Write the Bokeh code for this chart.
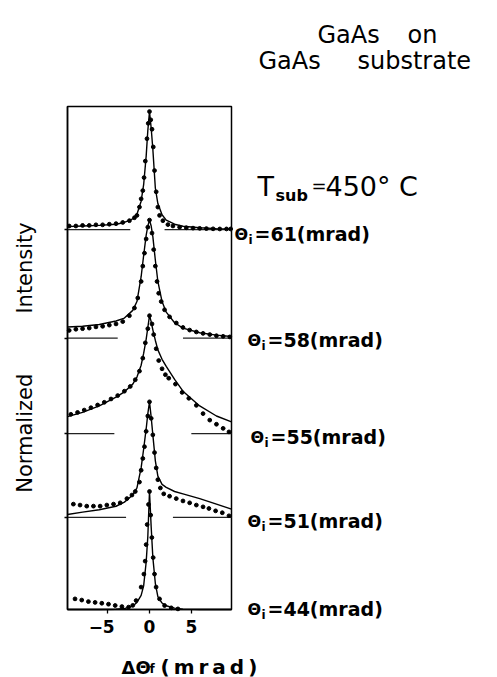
import math
from bokeh.plotting import figure
from bokeh.models import Label, FixedTicker, Range1d, LinearAxis
from bokeh.core.properties import value
from bokeh.embed import file_html
from bokeh.resources import INLINE

# ---------------- data ----------------
theta_i = [61, 58, 55, 51, 44]
offsets = [3.22, 2.30, 1.49, 0.78, 0.0]          # vertical offset of each curve (normalized units)
gap_left = [-2.3, -3.8, -4.2, -2.8]               # zero-line segments stop / restart
gap_right = [1.8, 4.0, 5.0, 2.8]

fit_x = [-9.8, -8, -6, -4, -3, -2, -1.5, -1, -0.7, -0.4, -0.2, 0, 0.2, 0.4, 0.7, 1, 1.5, 2, 3, 4, 6, 8, 9.8]
fit_61 = [0.025, 0.03, 0.035, 0.045, 0.06, 0.09, 0.13, 0.24, 0.38, 0.62, 0.84, 1.0, 0.86, 0.68, 0.35, 0.22, 0.125, 0.08, 0.045, 0.028, 0.015, 0.008, 0.005]
fit_58 = [0.094, 0.10, 0.115, 0.145, 0.17, 0.235, 0.31, 0.52, 0.70, 0.87, 0.95, 1.0, 0.95, 0.86, 0.66, 0.48, 0.31, 0.22, 0.13, 0.085, 0.045, 0.025, 0.014]
fit_55 = [0.145, 0.18, 0.235, 0.31, 0.355, 0.42, 0.48, 0.58, 0.68, 0.80, 0.90, 1.0, 0.95, 0.88, 0.79, 0.71, 0.63, 0.57, 0.46, 0.36, 0.235, 0.15, 0.10]
fit_51 = [0.025, 0.045, 0.065, 0.095, 0.13, 0.19, 0.25, 0.42, 0.58, 0.75, 0.88, 0.98, 0.85, 0.70, 0.48, 0.35, 0.28, 0.255, 0.22, 0.20, 0.16, 0.113, 0.07]
fit_44 = [0.0, 0.0, 0.0, 0.002, 0.008, 0.03, 0.06, 0.12, 0.2, 0.4, 0.62, 1.0, 0.70, 0.44, 0.22, 0.11, 0.055, 0.032, 0.012, 0.003, 0.0, 0.0, 0.0]

dot_x_61 = [-9.6, -8.8, -8.0, -7.2, -6.4, -5.6, -4.8, -4.0, -3.2, -2.4, -1.8, -1.5, -1.2, -1.0, -0.8, -0.65, -0.5, -0.3, -0.15, 0.0,
            0.15, 0.3, 0.45, 0.6, 0.8, 1.0, 1.2, 1.6, 2.2, 2.8, 3.6, 4.4, 5.2, 6.0, 6.8, 7.6, 8.4, 9.2, 9.7]
dot_y_61 = [0.03, 0.03, 0.035, 0.035, 0.04, 0.04, 0.045, 0.05, 0.06, 0.075, 0.1, 0.12, 0.19, 0.26, 0.33, 0.44, 0.58, 0.77, 0.9, 1.0,
            0.93, 0.85, 0.7, 0.5, 0.32, 0.19, 0.12, 0.075, 0.042, 0.03, 0.02, 0.015, 0.012, 0.01, 0.008, 0.006, 0.005, 0.005, 0.005]

dot_x_58 = [-9.6, -8.8, -8.0, -7.2, -6.4, -5.6, -4.8, -4.0, -3.2, -2.4, -1.8, -1.4, -1.0, -0.8, -0.6, -0.4, -0.2, 0.0,
            0.3, 0.5, 0.7, 0.9, 1.1, 1.4, 1.8, 2.4, 3.2, 4.0, 4.8, 5.6, 6.4, 7.2, 8.0, 8.8, 9.6]
dot_y_58 = [0.065, 0.075, 0.08, 0.085, 0.095, 0.1, 0.11, 0.12, 0.14, 0.19, 0.255, 0.34, 0.48, 0.61, 0.72, 0.84, 0.94, 1.0,
            0.89, 0.75, 0.61, 0.48, 0.38, 0.31, 0.24, 0.18, 0.128, 0.09, 0.068, 0.052, 0.04, 0.03, 0.02, 0.015, 0.01]

dot_x_55 = [-9.4, -8.6, -7.8, -7.0, -6.2, -5.4, -4.6, -3.8, -3.0, -2.3, -1.7, -1.2, -0.8, -0.5, -0.2, 0.0,
            0.3, 0.5, 0.8, 1.1, 1.5, 1.9, 2.3, 3.1, 3.9, 4.7, 5.6, 6.4, 7.2, 8.0, 8.8, 9.5]
dot_y_55 = [0.164, 0.18, 0.2, 0.22, 0.243, 0.266, 0.294, 0.323, 0.36, 0.40, 0.457, 0.53, 0.64, 0.77, 0.89, 1.0,
            0.93, 0.84, 0.72, 0.62, 0.55, 0.50, 0.47, 0.42, 0.35, 0.30, 0.24, 0.17, 0.115, 0.08, 0.045, 0.015]

dot_x_51 = [-9.1, -8.3, -7.5, -6.7, -5.9, -5.1, -4.3, -3.5, -2.7, -2.1, -1.7, -1.2, -1.0, -0.8, -0.6, -0.4, -0.2, 0.0,
            0.2, 0.4, 0.6, 0.8, 1.0, 1.3, 1.7, 2.4, 3.2, 4.0, 4.8, 5.6, 6.4, 7.1, 7.9, 8.7, 9.5]
dot_y_51 = [0.113, 0.105, 0.096, 0.096, 0.096, 0.105, 0.113, 0.124, 0.16, 0.19, 0.22, 0.3, 0.4, 0.5, 0.6, 0.73, 0.86, 0.98,
            0.84, 0.7, 0.55, 0.42, 0.32, 0.25, 0.2, 0.18, 0.16, 0.14, 0.124, 0.105, 0.09, 0.076, 0.056, 0.04, 0.014]

dot_x_44 = [-8.9, -8.1, -7.3, -6.5, -5.7, -4.9, -4.1, -3.3, -2.5, -2.0, -1.6, -1.0, -0.67, -0.52, -0.4, -0.28, -0.12, 0.0,
            0.14, 0.28, 0.44, 0.6, 0.79, 1.2, 1.8, 2.6, 3.4]
dot_y_44 = [0.09, 0.08, 0.067, 0.06, 0.053, 0.045, 0.034, 0.025, 0.02, 0.035, 0.076, 0.19, 0.3, 0.41, 0.55, 0.72, 0.89, 1.0,
            0.8, 0.61, 0.44, 0.3, 0.19, 0.09, 0.034, 0.014, 0.005]

fits = [fit_61, fit_58, fit_55, fit_51, fit_44]
dots = [(dot_x_61, dot_y_61), (dot_x_58, dot_y_58), (dot_x_55, dot_y_55), (dot_x_51, dot_y_51), (dot_x_44, dot_y_44)]

x_ticks = [-5, 0, 5]
x_tick_labels = ["\u22125", "0", "5"]
title_lines = [("GaAs", "on"), ("GaAs", "substrate")]

# ---------------- geometry ----------------
X0, X1 = -9.8, 9.8              # data limits of the plot box
Y1 = 503 / 118.0
FONT = "DejaVu Sans"
W, H = 497, 677
BOX_L, BOX_R, BOX_B = 67, 231, 609     # page pixels of the box
KX = (BOX_R - BOX_L) / (X1 - X0)
KY = 118.0
FR_TOP, FR_RIGHT = 3, W - 3           # frame spans the page (small margin for the axis panels)

x_start = X0 - BOX_L / KX
x_end = X1 + (FR_RIGHT - BOX_R) / KX
y_start = -(H - BOX_B) / KY
y_end = (BOX_B - FR_TOP) / KY

p = figure(width=W, height=H, x_range=Range1d(x_start, x_end), y_range=Range1d(y_start, y_end),
           x_axis_type=None, y_axis_type=None, output_backend="svg", toolbar_location=None,
           min_border_left=0, min_border_bottom=0, min_border_top=FR_TOP, min_border_right=W - FR_RIGHT)
p.outline_line_color = None
p.background_fill_color = "white"
p.border_fill_color = "white"


def sx(px):
    return X0 + (px - BOX_L) / KX


def sy(py):
    return (BOX_B - py) / KY


# axes drawn along the box edges (ticks point outward, labels drawn separately below)
axis_style = dict(minor_tick_in=0, minor_tick_out=0, major_tick_out=0,
                  major_label_text_font_size="1px", major_label_text_color=None, major_label_standoff=0,
                  axis_line_width=1.5, major_tick_line_width=1.3)
xb = LinearAxis(fixed_location=0, bounds=(X0, X1), ticker=FixedTicker(ticks=x_ticks),
                major_tick_in=4, **axis_style)
p.add_layout(xb, "above")
yl = LinearAxis(fixed_location=X0, bounds=(0, Y1), ticker=FixedTicker(ticks=offsets[:4]),
                major_tick_in=3, **axis_style)
p.add_layout(yl, "right")
p.quad(left=X0, right=X1, bottom=0, top=Y1, fill_color=None, line_color="black", line_width=1.5)

# tick labels
p.text(x=x_ticks, y=[sy(619)] * len(x_ticks), text=x_tick_labels, x_offset=[-6, 0, 0],
       text_font=value(FONT), text_font_size=value("17px"), text_font_style=value("bold"),
       text_align="center", text_baseline="top", text_color="black")

# zero lines
for off, gl, gr in zip(offsets[:4], gap_left, gap_right):
    p.line([X0, gl], [off, off], line_color="#222222", line_width=1.3)
    p.line([gr, X1], [off, off], line_color="#222222", line_width=1.3)

# fits and data
for off, f, (dx, dy) in zip(offsets, fits, dots):
    p.line(fit_x, [off + v for v in f], line_color="black", line_width=1.4)
    p.scatter(dx, [off + v for v in dy], size=3.8, color="black", marker="circle")


def lab(px, py, text, size, style="normal", align="left", angle=0.0, baseline="top"):
    p.add_layout(Label(x=sx(px), y=sy(py), text=text, text_font=FONT, text_font_size=size,
                       text_font_style=style, text_align=align, text_baseline=baseline,
                       text_color="black", angle=angle))


# y-axis title
lab(24, 357, "Normalized" + "\u00a0" * 9 + "Intensity", "21px", align="center",
    angle=math.pi / 2, baseline="middle")

# x-axis title (positions are the tops of the text boxes)
lab(121, 656, "\u0394\u0398", "18px", "bold")
lab(149, 661, "f", "12px", "bold")
lab(160, 654, "(\u2009m\u2009r\u2009a\u2009d\u2009)", "20px", "bold")

# title
lab(317, 20, title_lines[0][0], "24px")
lab(407, 20, title_lines[0][1], "24px")
lab(258, 46, title_lines[1][0], "24px")
lab(357, 46, title_lines[1][1], "24px")

# T_sub = 450 C
lab(257, 170, "T", "27px")
lab(275, 185, "sub", "16px", "bold")
lab(311, 174, "=", "18px")
lab(325, 170, "450\u00b0 C", "27px")

# theta_i labels (text-box tops)
row_x = [234, 247, 250, 247, 247]
row_top = [222, 328, 425, 509, 597]
for t, rx, rt in zip(theta_i, row_x, row_top):
    lab(rx, rt + 2, "\u0398", "16px", "bold")
    lab(rx + 14, rt + 10, "i", "12px", "bold")
    lab(rx + 20, rt, "=%d(mrad)" % t, "19px", "bold")

open("out.html", "w").write(file_html(p, INLINE))
